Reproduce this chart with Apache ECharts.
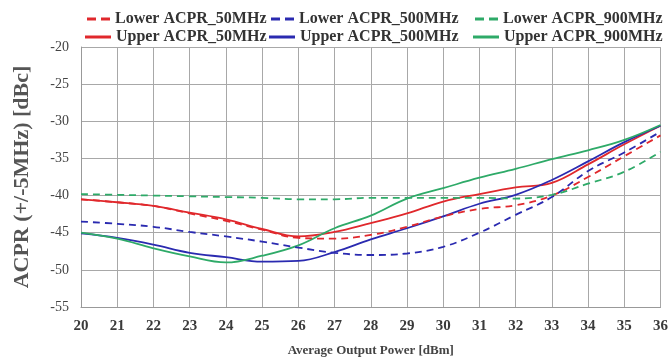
<!DOCTYPE html>
<html><head><meta charset="utf-8">
<script src="https://cdn.jsdelivr.net/npm/echarts@6/dist/echarts.min.js"></script>
<style>html,body{margin:0;padding:0;background:#fff}#c{width:671px;height:362px}</style>
</head><body><div id="c"></div>
<script>
const xValues = [20,21,22,23,24,25,26,27,28,29,30,31,32,33,34,35,36];
const yTicks = [-20,-25,-30,-35,-40,-45,-50,-55];
const lower50  = [-40.5,-40.9,-41.4,-42.4,-43.4,-44.6,-45.7,-45.8,-45.3,-44.2,-42.8,-41.8,-41.3,-40.0,-37.5,-34.7,-31.9];
const lower500 = [-43.5,-43.8,-44.2,-44.9,-45.5,-46.2,-47.0,-47.7,-48.0,-47.8,-46.9,-45.0,-42.6,-40.2,-36.7,-34.2,-31.4];
const lower900 = [-39.8,-39.9,-40.0,-40.1,-40.2,-40.3,-40.5,-40.5,-40.3,-40.3,-40.3,-40.3,-40.4,-39.9,-38.4,-36.8,-34.1];
const upper50  = [-40.5,-40.9,-41.4,-42.3,-43.2,-44.5,-45.5,-44.9,-43.7,-42.4,-40.8,-39.8,-38.9,-38.3,-35.8,-33.1,-30.6];
const upper500 = [-45.1,-45.7,-46.6,-47.7,-48.3,-48.9,-48.8,-47.6,-45.9,-44.4,-42.8,-41.1,-39.9,-37.9,-35.4,-32.8,-30.6];
const upper900 = [-45.0,-45.8,-47.1,-48.2,-49.0,-48.1,-46.7,-44.4,-42.7,-40.4,-39.0,-37.6,-36.4,-35.1,-33.9,-32.5,-30.5];
const names = ['Lower ACPR_50MHz','Lower ACPR_500MHz','Lower ACPR_900MHz','Upper ACPR_50MHz','Upper ACPR_500MHz','Upper ACPR_900MHz'];
const seriesData = [lower50, lower500, lower900, upper50, upper500, upper900];
const colors = ['#e0282c','#2a2ab0','#2eaa68','#e0282c','#2a2ab0','#2eaa68'];
const dashed = [true,true,true,false,false,false];

const font = '"Liberation Serif","Times New Roman",serif';
const legendPos = [[82,6],[266,6],[470,6],[80,24],[264,24],[468,24]];
const dashIcon = 'path://M0,0H9V3H0Z M14,0H23V3H14Z';
const solidIcon = 'path://M0,0H26V3H0Z';
const chart = echarts.init(document.getElementById('c'));
chart.setOption({
  animation:false,
  grid:{left:81,right:10,top:47,bottom:55},
  legend: names.map((n,i)=>({
    data:[{name:n, icon: dashed[i]?dashIcon:solidIcon}], left:legendPos[i][0], top:legendPos[i][1],
    itemWidth: dashed[i]?23:26, itemHeight:3, itemGap:4,
    textStyle:{fontFamily:font,fontWeight:'bold',fontSize:16,color:'#333'}
  })),
  xAxis:{type:'value',min:20,max:36,interval:1,
    name:'Average Output Power [dBm]',nameLocation:'middle',nameGap:37,
    nameTextStyle:{fontFamily:font,fontWeight:'bold',fontSize:13,color:'#444'},
    axisLine:{lineStyle:{color:'#999'}},axisTick:{show:false},
    axisLabel:{fontFamily:font,fontWeight:'bold',fontSize:15,color:'#3a3a3a',margin:12},
    splitLine:{show:true,lineStyle:{color:'#a8a8a8',width:1}}},
  yAxis:{type:'value',min:-55,max:-20,interval:5,
    name:'ACPR (+/-5MHz) [dBc]',nameLocation:'middle',nameGap:48,nameRotate:90,
    nameTextStyle:{fontFamily:font,fontWeight:'bold',fontSize:22,color:'#555'},
    axisLine:{show:true,lineStyle:{color:'#999'}},axisTick:{show:false},
    axisLabel:{fontFamily:font,fontSize:14,color:'#444',margin:12},
    splitLine:{show:true,lineStyle:{color:'#a8a8a8',width:1}}},
  series: names.map((n,i)=>({
    name:n,type:'line',smooth:0.4,showSymbol:false,symbol:'none',
    data: xValues.map((x,j)=>[x,seriesData[i][j]]),
    lineStyle:{color:colors[i],width:1.8,type:dashed[i]?[7,5]:'solid'},
    itemStyle:{color:colors[i]},
    z: dashed[i]?3:2
  }))
});
</script></body></html>
